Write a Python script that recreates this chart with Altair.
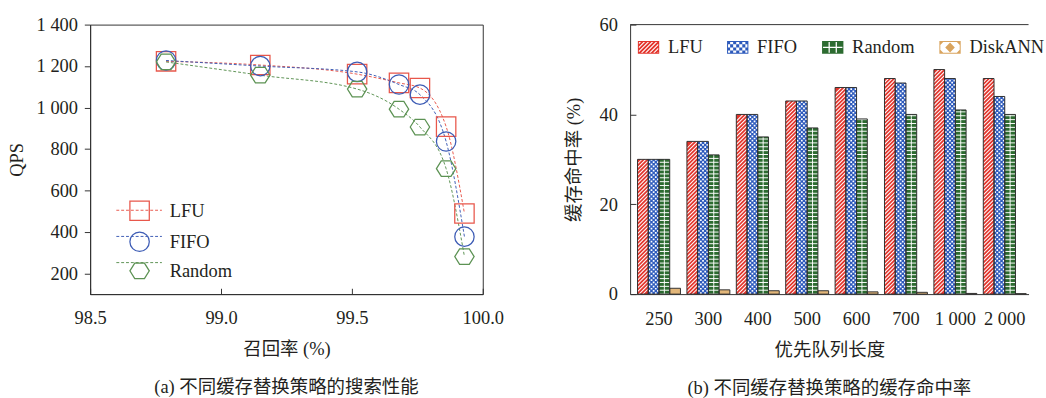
import altair as alt

# ---------------- data ----------------
SERIES_A = ["LFU", "FIFO", "Random"]
RECALL = [98.79, 99.15, 99.52, 99.68, 99.76, 99.86, 99.93]
QPS_LFU = [1223, 1205, 1161, 1119, 1094, 908, 489]
QPS_FIFO = [1227, 1200, 1172, 1111, 1062, 836, 377]
QPS_RANDOM = [1220, 1156, 1089, 992, 906, 705, 281]
QPS_TICKS = [200, 400, 600, 800, 1000, 1200, 1400]
RECALL_TICKS = [98.5, 99.0, 99.5, 100.0]

SERIES_B = ["LFU", "FIFO", "Random", "DiskANN"]
QUEUE_LEN = ["250", "300", "400", "500", "600", "700", "1 000", "2 000"]
HIT_LFU = [30, 34, 40, 43, 46, 48, 50, 48]
HIT_FIFO = [30, 34, 40, 43, 46, 47, 48, 44]
HIT_RANDOM = [30, 31, 35, 37, 39, 40, 41, 40]
HIT_DISKANN = [1.3, 0.95, 0.75, 0.75, 0.5, 0.4, 0.15, 0.1]
HIT_TICKS = [0, 20, 40, 60]

TITLE_A = "(a) 不同缓存替换策略的搜索性能"
TITLE_B = "(b) 不同缓存替换策略的缓存命中率"
XTITLE_A = "召回率 (%)"
YTITLE_A = "QPS"
XTITLE_B = "优先队列长度"
YTITLE_B = "缓存命中率 (%)"

# ---------------- style ----------------
FONT = "Liberation Serif, Noto Sans CJK SC"
INK = "#231f20"
EDGE = "#2f2f2f"
FS = 19
LINE_COLORS = ["#e8574b", "#3d5cb5", "#5c9253"]
BAR_COLORS = ["#e3352c", "#2d5abc", "#2c6b30", "#d9a45e"]
DISK_FILL = "#e2b679"
WHITE = "#ffffff"
HEX = "M-1,0L-0.5,-0.8L0.5,-0.8L1,0L0.5,0.8L-0.5,0.8Z"
W_A, H_A = 405, 278
W_B, H_B = 411, 278
PAD_IN, PAD_OUT, BAND_ALIGN = 0.131, 0.0987, 0.76
STEP_B = W_B / (len(QUEUE_LEN) - PAD_IN + 2 * PAD_OUT)
BAR_W = STEP_B * (1 - PAD_IN) / len(SERIES_B)
PX_PER_UNIT = H_B / HIT_TICKS[-1]

# pattern glyphs drawn inside the bars (symbol unit = BAR_W / 2 px)
PAT_SIZE = BAR_W * BAR_W
HATCH_PATH = "M-1,1L1,-1"
HATCH_STEP = 4.0 / PX_PER_UNIT


def check_path():
    cell, sq = 0.4, 0.32
    parts = []
    for row, cols in ((-1, (1, 3)), (0, (0, 2, 4))):
        y0 = row * cell + (cell - sq) / 2
        for c in cols:
            x0 = -1 + c * cell + (cell - sq) / 2
            parts.append(f"M{x0:.3f},{y0:.3f}H{x0 + sq:.3f}V{y0 + sq:.3f}H{x0:.3f}Z")
    return "".join(parts)


CHECK_PATH = check_path()
CHECK_STEP = (0.8 * BAR_W / 2) / PX_PER_UNIT
GRID_STEP_PX = 4.0
GRID_PATH = "M-1,0H1M0,-{h:.4f}V{h:.4f}".format(h=GRID_STEP_PX / (BAR_W / 2) / 2)
GRID_STEP = GRID_STEP_PX / PX_PER_UNIT


# legend symbol paths (unit square -1..1 -> 22 px)
U = 11.0
HH = 6.5 / U
T = 1.0 / U


def signed_area(pts):
    return sum(pts[i - 1][0] * pts[i][1] - pts[i][0] * pts[i - 1][1] for i in range(len(pts)))


def poly_path(pts, hole=False):
    ar = signed_area(pts)
    if (ar < 0 and not hole) or (ar > 0 and hole):
        pts = pts[::-1]
    return "M" + "L".join(f"{x:.3f},{y:.3f}" for x, y in pts) + "Z"


def clip_rect(poly, xmin, xmax, ymin, ymax):
    def clip_edge(pts, inside, inter):
        out = []
        for i in range(len(pts)):
            cur, prev = pts[i], pts[i - 1]
            if inside(cur):
                if not inside(prev):
                    out.append(inter(prev, cur))
                out.append(cur)
            elif inside(prev):
                out.append(inter(prev, cur))
        return out

    def ix(p, q, xv):
        t = (xv - p[0]) / (q[0] - p[0])
        return (xv, p[1] + t * (q[1] - p[1]))

    def iy(p, q, yv):
        t = (yv - p[1]) / (q[1] - p[1])
        return (p[0] + t * (q[0] - p[0]), yv)

    pts = poly
    for inside, inter in [
        (lambda p: p[0] >= xmin, lambda p, q: ix(p, q, xmin)),
        (lambda p: p[0] <= xmax, lambda p, q: ix(p, q, xmax)),
        (lambda p: p[1] >= ymin, lambda p, q: iy(p, q, ymin)),
        (lambda p: p[1] <= ymax, lambda p, q: iy(p, q, ymax)),
    ]:
        if not pts:
            return []
        pts = clip_edge(pts, inside, inter)
    return pts


def rect(x0, y0, x1, y1):
    return [(x0, y0), (x1, y0), (x1, y1), (x0, y1)]


def frame():
    return poly_path(rect(-1, -HH, 1, HH)) + poly_path(rect(-1 + T, -HH + T, 1 - T, HH - T), hole=True)


def sym_lfu():
    p, frac = 4.2 / U, 0.62
    parts = [frame()]
    s = -1 - HH
    while s < 1 + HH:
        s0, s1 = s, s + frac * p
        band = [(s0 + 3, -3), (s1 + 3, -3), (s1 - 3, 3), (s0 - 3, 3)]
        c = clip_rect(band, -1, 1, -HH, HH)
        if len(c) >= 3:
            parts.append(poly_path(c))
        s += p
    return "".join(parts)


def sym_fifo():
    cols, rows = 7, 4
    cw, rh = 2.0 / cols, 2 * HH / rows
    parts = [frame()]
    for i in range(cols):
        for j in range(rows):
            if (i + j) % 2 == 0:
                parts.append(poly_path(rect(-1 + i * cw, -HH + j * rh, -1 + (i + 1) * cw, -HH + (j + 1) * rh)))
    return "".join(parts)


def sym_random():
    g = 0.06
    xs = [(-1, -1 / 3 - g), (-1 / 3 + g, 1 / 3 - g), (1 / 3 + g, 1)]
    ys = [(-HH, -g), (g, HH)]
    parts = [frame()]
    for x0, x1 in xs:
        for y0, y1 in ys:
            parts.append(poly_path(rect(x0, y0, x1, y1)))
    return "".join(parts)


def sym_diskann():
    a, b = 0.45, 0.47
    parts = [frame(), poly_path([(0, -b), (a, 0), (0, b), (-a, 0)])]
    for sx in (-1, 1):
        for sy in (-1, 1):
            cx, cy = sx * 1.0, sy * HH
            parts.append(poly_path([(cx, cy), (cx - sx * a, cy), (cx, cy - sy * b)]))
    return "".join(parts)


PATTERN_SHAPES = [sym_lfu(), sym_fifo(), sym_random(), sym_diskann()]

# ---------------- left chart ----------------
rows_a = [{"series": s, "recall": r, "qps": q}
          for s, vals in zip(SERIES_A, [QPS_LFU, QPS_FIFO, QPS_RANDOM])
          for r, q in zip(RECALL, vals)]
data_a = alt.Data(values=rows_a)

x_a = alt.X("recall:Q", scale=alt.Scale(domain=[RECALL_TICKS[0], RECALL_TICKS[-1]], nice=False, zero=False),
            axis=alt.Axis(values=RECALL_TICKS, format=".1f", title=XTITLE_A, labelFlush=False,
                          tickSize=alt.ExprRef(expr="-6"), labelPadding=21, titlePadding=13))
y_a = alt.Y("qps:Q", scale=alt.Scale(domain=[100, QPS_TICKS[-1]], nice=False, zero=False),
            axis=alt.Axis(values=QPS_TICKS, title=YTITLE_A, tickSize=6, labelPadding=7, titlePadding=10,
                          labelExpr="replace(format(datum.value, ','), ',', ' ')"))

leg_common = dict(orient="none", legendX=40, legendY=181, title=None, symbolSize=400, rowPadding=6,
                  labelOffset=20, labelFontSize=FS, labelFont=FONT, labelColor=INK, padding=0)
line_leg = alt.Legend(symbolType="M-2.35,0H2.35", symbolDash=[3, 2], symbolStrokeWidth=1,
                      labelOpacity=0, labelExpr="''", **leg_common)
pt_leg = alt.Legend(symbolStrokeWidth=1.3, **leg_common)

lines = alt.Chart(data_a).mark_line(strokeDash=[3, 2], strokeWidth=1, interpolate="monotone").encode(
    x=x_a, y=y_a,
    stroke=alt.Stroke("series:N", scale=alt.Scale(domain=SERIES_A, range=LINE_COLORS), legend=line_leg),
)
points = alt.Chart(data_a).mark_point(filled=False, size=400, strokeWidth=1.3, opacity=1).encode(
    x=x_a, y=y_a,
    color=alt.Color("series:N", scale=alt.Scale(domain=SERIES_A, range=LINE_COLORS), legend=pt_leg),
    shape=alt.Shape("series:N", scale=alt.Scale(domain=SERIES_A, range=["square", "circle", HEX]), legend=pt_leg),
)
left = alt.layer(lines, points).resolve_legend(
    stroke="independent", color="independent", shape="independent"
).properties(
    width=W_A, height=H_A,
    title=alt.TitleParams(TITLE_A, orient="bottom", anchor="middle", frame="group", offset=21,
                          fontSize=FS, font=FONT, fontWeight="normal", color=INK),
)

# ---------------- right chart ----------------
rows_b = [{"series": s, "queue": c, "hit": v}
          for s, vals in zip(SERIES_B, [HIT_LFU, HIT_FIFO, HIT_RANDOM, HIT_DISKANN])
          for c, v in zip(QUEUE_LEN, vals)]
data_b = alt.Data(values=rows_b)

x_b = alt.X("queue:N", sort=QUEUE_LEN,
            scale=alt.Scale(domain=QUEUE_LEN, paddingInner=PAD_IN, paddingOuter=PAD_OUT, align=BAND_ALIGN),
            axis=alt.Axis(title=XTITLE_B, labelAngle=0, ticks=False, labelPadding=16, titlePadding=13, zindex=1))
xo_b = alt.XOffset("series:N", scale=alt.Scale(domain=SERIES_B, paddingInner=0, paddingOuter=0))
y_scale_b = alt.Scale(domain=[HIT_TICKS[0], HIT_TICKS[-1]], nice=False)
y_axis_b = alt.Axis(values=HIT_TICKS, title=YTITLE_B, tickSize=alt.ExprRef(expr="-6"),
                    labelPadding=19, titlePadding=16, zindex=1)
y_b = alt.Y("hit:Q", scale=y_scale_b, axis=y_axis_b)
y_pat = alt.Y("yy:Q", scale=y_scale_b, axis=y_axis_b)

bars_base = alt.Chart(data_b).mark_bar(strokeWidth=0).encode(
    x=x_b, xOffset=xo_b, y=y_b,
    fill=alt.Fill("series:N", scale=alt.Scale(domain=SERIES_B, range=BAR_COLORS[:3] + [DISK_FILL]), legend=None))


def pattern_layer(series, step, mark):
    return alt.Chart(data_b).transform_filter(
        alt.datum.series == series
    ).transform_calculate(
        ys=f"sequence(0, datum.hit + {step / 2:.5f}, {step:.5f})"
    ).transform_flatten(["ys"], ["yy"]).mark_point(**mark).encode(
        x=x_b, xOffset=xo_b, y=y_pat)


hatch = pattern_layer("LFU", HATCH_STEP, dict(shape=HATCH_PATH, size=PAT_SIZE, filled=False, stroke=WHITE,
                                               strokeWidth=1.05, opacity=1, strokeCap="butt"))
check = pattern_layer("FIFO", CHECK_STEP, dict(shape=CHECK_PATH, size=PAT_SIZE, filled=True, fill=WHITE,
                                                strokeWidth=0, opacity=1))
grid = pattern_layer("Random", GRID_STEP, dict(shape=GRID_PATH, size=PAT_SIZE, filled=False, stroke=WHITE,
                                                strokeWidth=1, opacity=1, strokeCap="butt"))

bars_edge = alt.Chart(data_b).mark_bar(fillOpacity=0, stroke=EDGE, strokeWidth=1).encode(
    x=x_b, xOffset=xo_b, y=y_b)

leg_b = alt.Legend(orient="none", legendX=8, legendY=12.5, direction="horizontal", title=None,
                   symbolSize=484, symbolStrokeWidth=0, symbolOpacity=1, labelOffset=9, columnPadding=25,
                   labelFontSize=FS, labelFont=FONT, labelColor=INK, padding=0)
legend_pts = alt.Chart(data_b).mark_point(filled=True, opacity=0, size=484).encode(
    x=x_b, xOffset=xo_b, y=y_b,
    color=alt.Color("series:N", scale=alt.Scale(domain=SERIES_B, range=BAR_COLORS), legend=leg_b),
    shape=alt.Shape("series:N", scale=alt.Scale(domain=SERIES_B, range=PATTERN_SHAPES), legend=leg_b),
)
top_rule = alt.Chart(alt.Data(values=[{"top": HIT_TICKS[-1]}])).mark_rule(color=EDGE, strokeWidth=1).encode(
    y=alt.Y("top:Q", scale=y_scale_b, axis=y_axis_b))

right = alt.layer(bars_base, hatch, check, grid, bars_edge, legend_pts, top_rule).resolve_scale(
    fill="independent", color="independent", shape="independent"
).resolve_legend(fill="independent", color="independent", shape="independent").properties(
    width=W_B, height=H_B,
    view=alt.ViewBackground(stroke="transparent"),
    title=alt.TitleParams(TITLE_B, orient="bottom", anchor="middle", frame="group", offset=21,
                          fontSize=FS, font=FONT, fontWeight="normal", color=INK),
)

chart = alt.hconcat(left, right, spacing=62).resolve_scale(
    color="independent", shape="independent", stroke="independent", fill="independent"
).resolve_legend(
    color="independent", shape="independent", stroke="independent", fill="independent"
).properties(
    padding={"left": 7, "top": 9, "right": 0, "bottom": 0}
).configure_view(stroke=EDGE, strokeWidth=1).configure_axis(
    labelFont=FONT, titleFont=FONT, labelFontSize=FS, titleFontSize=FS, labelColor=INK, titleColor=INK,
    titleFontWeight="normal", domainColor=EDGE, tickColor=EDGE, domainWidth=1, tickWidth=1, grid=False,
).configure_legend(labelFont=FONT, labelColor=INK)

chart.save("out.html", embed_options={"renderer": "svg", "actions": False})
